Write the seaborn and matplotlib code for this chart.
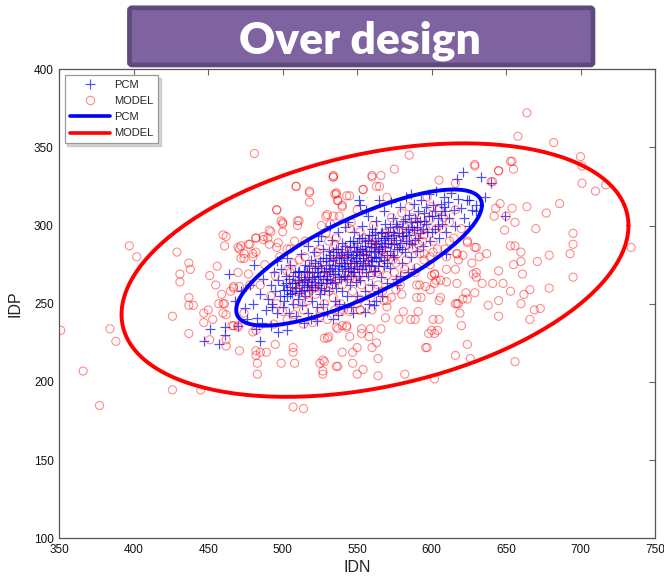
import numpy as np
import pandas as pd
import matplotlib
matplotlib.use("Agg")
import matplotlib.pyplot as plt
from matplotlib.lines import Line2D
from matplotlib.patches import FancyBboxPatch
import seaborn as sns

# ---------------- data ----------------
# PCM samples (IDN, IDP)
pcm_edge = [(468, 252), (472, 258), (475, 247), (478, 262), (480, 250), (483, 241), (485, 256),
            (487, 266), (489, 246), (490, 253), (476, 240), (486, 238), (464, 269), (481, 275),
            (457, 224), (461, 230), (451, 234), (485, 226), (482, 234), (447, 226), (470, 236),
            (492, 236), (497, 232), (503, 233), (461, 235), (493, 248)]
pcm_low = [(492, 262), (493, 250), (494, 270), (495, 258), (496, 244), (497, 265), (498, 255),
           (499, 272), (500, 248), (500, 262), (501, 252), (502, 268), (503, 259), (504, 244),
           (505, 275), (505, 256), (506, 263), (507, 250), (508, 270), (508, 258), (509, 242),
           (510, 265), (510, 253), (496, 277), (503, 279),
           (511, 271), (512, 258), (512, 282), (513, 249), (514, 265), (515, 275), (515, 255),
           (516, 262), (517, 287), (517, 244), (518, 270), (518, 259), (519, 278), (520, 252),
           (520, 266), (521, 283), (522, 261), (522, 273), (523, 248), (524, 268), (524, 290),
           (525, 256), (525, 277), (526, 263), (527, 285), (527, 250), (528, 271), (528, 259),
           (529, 279), (530, 266), (530, 245), (526, 293), (519, 240), (514, 238), (523, 239)]
pcm_mid = [(531, 284), (531, 258), (532, 272), (533, 263), (533, 291), (534, 278), (535, 252),
           (535, 269), (536, 285), (536, 260), (537, 296), (538, 274), (538, 250), (539, 281),
           (539, 266), (540, 289), (540, 258), (541, 276), (542, 268), (542, 299), (543, 283),
           (543, 255), (544, 273), (545, 290), (545, 262), (546, 280), (546, 248), (547, 270),
           (548, 286), (548, 296), (549, 264), (549, 277), (550, 283), (550, 255), (537, 243),
           (544, 302), (547, 244), (532, 300), (541, 248), (534, 240),
           (551, 272), (551, 292), (552, 265), (553, 285), (553, 300), (554, 276), (555, 258),
           (555, 290), (556, 281), (557, 268), (557, 306), (558, 294), (559, 275), (559, 286),
           (560, 262), (560, 298), (561, 280), (562, 271), (562, 290), (563, 303), (564, 284),
           (564, 258), (565, 277), (566, 295), (566, 267), (567, 287), (568, 309), (568, 274),
           (569, 292), (570, 281), (570, 263), (556, 310), (563, 252), (558, 250), (569, 301),
           (552, 313), (565, 316), (555, 245), (561, 249), (567, 255), (551, 316)]
pcm_high = [(571, 296), (572, 273), (573, 288), (574, 305), (575, 280), (575, 294), (576, 266),
            (577, 300), (578, 286), (579, 312), (580, 276), (580, 293), (581, 303), (582, 283),
            (583, 296), (584, 270), (585, 307), (585, 289), (586, 280), (587, 299), (588, 314),
            (589, 291), (590, 284), (590, 302), (577, 262), (583, 318), (573, 315), (588, 272),
            (579, 268), (586, 320),
            (591, 309), (592, 295), (593, 316), (594, 287), (595, 303), (596, 312), (597, 296),
            (598, 320), (599, 290), (600, 306), (601, 313), (602, 298), (603, 322), (604, 305),
            (605, 292), (606, 314), (607, 301), (608, 318), (609, 309), (610, 296),
            (611, 315), (612, 305), (613, 321), (615, 310), (616, 300), (618, 317), (620, 311),
            (622, 305), (624, 316), (627, 310), (630, 313), (625, 300),
            (621, 334), (633, 331), (640, 327), (636, 318), (625, 316), (630, 309), (610, 282),
            (649, 306), (617, 330)]
pcm_dense = [(501, 259), (502, 263), (503, 255), (504, 266), (505, 261), (506, 257), (507, 268),
             (508, 263), (509, 260), (510, 270), (511, 264), (511, 257), (512, 267), (513, 262),
             (514, 271), (514, 259), (515, 266), (516, 270), (516, 261), (517, 264), (518, 274),
             (518, 267), (519, 262), (520, 270), (520, 259), (521, 267), (522, 276), (522, 264),
             (523, 270), (524, 262), (524, 274), (525, 268), (526, 273), (526, 260), (527, 279),
             (527, 266), (528, 270), (529, 275), (529, 263), (530, 268), (531, 277), (531, 271),
             (532, 265), (532, 281), (533, 273), (534, 269), (534, 283), (535, 275), (535, 264),
             (536, 279), (537, 271), (537, 285), (538, 267), (538, 280), (539, 276), (540, 272),
             (540, 283), (541, 268), (541, 279), (542, 287), (542, 274), (543, 278), (543, 266),
             (544, 282), (544, 271), (545, 276), (545, 286), (546, 273), (546, 268), (547, 281),
             (547, 290), (548, 276), (548, 270), (549, 284), (549, 279), (550, 274), (550, 289),
             (551, 281), (551, 268), (552, 285), (552, 277), (553, 272), (553, 292), (554, 282),
             (554, 279), (555, 287), (555, 275), (556, 284), (556, 270), (557, 291), (557, 278),
             (558, 284), (558, 274), (559, 289), (559, 280), (560, 294), (560, 277), (561, 286),
             (561, 271), (562, 283), (562, 296), (563, 288), (563, 279), (564, 292), (564, 274),
             (565, 285), (566, 289), (566, 280), (567, 296), (567, 284), (568, 278), (568, 291),
             (569, 286), (570, 293), (570, 276), (571, 289), (572, 299), (572, 284), (573, 292),
             (574, 281), (574, 296), (575, 288), (576, 301), (576, 291), (577, 285), (578, 295),
             (579, 289), (580, 299), (580, 285), (581, 293), (582, 304), (583, 290), (584, 298),
             (585, 294), (586, 302), (587, 288), (588, 297), (589, 305), (590, 299), (591, 292),
             (592, 303), (594, 298), (595, 308), (596, 301), (598, 306), (600, 296), (602, 309),
             (604, 300), (606, 307), (608, 312)]

# MODEL samples (IDN, IDP)
model_left = [(351, 233), (366, 207), (377, 185), (384, 234), (388, 226), (397, 287), (402, 280),
              (426, 195), (426, 242), (429, 283), (431, 269), (431, 264), (437, 276), (438, 272),
              (437, 254), (437, 249), (440, 249), (437, 231), (445, 195), (447, 244), (447, 238),
              (451, 268), (451, 227), (453, 240), (456, 274), (457, 250), (459, 256), (460, 294),
              (461, 287), (462, 227), (462, 223), (466, 236), (467, 261), (470, 236), (471, 220),
              (470, 286), (472, 279), (474, 282), (477, 288), (477, 269), (480, 280), (481, 346),
              (482, 292), (482, 233), (482, 220), (482, 217), (483, 212), (483, 205), (485, 219),
              (487, 291), (489, 219), (491, 297), (491, 288), (496, 310), (496, 286), (499, 303),
              (500, 301), (499, 212), (495, 224), (507, 222), (507, 219), (508, 212), (507, 184),
              (514, 183), (509, 325), (510, 303), (518, 321), (518, 315), (525, 212), (527, 214),
              (527, 207), (528, 228), (534, 331), (535, 320), (534, 306), (536, 210), (536, 235)]
model_upper = [(534, 332), (518, 322), (509, 325), (496, 310), (500, 302), (511, 303), (492, 296),
               (487, 293), (482, 292), (462, 293), (478, 288), (471, 285), (474, 279), (480, 282),
               (497, 289), (503, 285), (508, 290), (536, 320), (543, 319), (537, 316), (540, 313),
               (530, 307), (532, 301), (554, 323), (560, 331), (563, 325), (467, 260), (471, 261),
               (461, 250), (462, 243), (460, 244), (467, 236), (470, 235), (480, 232), (494, 237),
               (503, 240), (514, 237), (525, 242), (531, 229), (543, 236), (552, 246), (538, 245),
               (553, 231), (559, 234),
               (585, 345), (575, 336), (534, 331), (560, 332), (566, 332), (565, 325), (554, 323),
               (536, 321), (537, 316), (540, 312), (529, 306), (545, 319), (570, 318), (605, 329),
               (616, 327), (629, 339), (645, 335), (653, 341), (640, 328)]
model_core = [(485, 262), (488, 275), (492, 255), (495, 268), (498, 280), (500, 245), (503, 271),
              (505, 285), (507, 262), (509, 250), (511, 278), (513, 266), (515, 290), (517, 252),
              (519, 272), (521, 260), (523, 283), (525, 245), (527, 268), (529, 295), (531, 258),
              (533, 276), (535, 288), (537, 265), (539, 250), (541, 282), (543, 270), (545, 298),
              (547, 258), (549, 285), (551, 275), (553, 262), (555, 292), (557, 280), (559, 268),
              (561, 300), (563, 286), (565, 272), (567, 258), (569, 295), (571, 281), (573, 305),
              (575, 270), (577, 290), (579, 262), (581, 300), (583, 278), (585, 312), (587, 285),
              (589, 270), (591, 296), (593, 305), (595, 282), (597, 318), (599, 275), (601, 290),
              (603, 265), (605, 310), (607, 298), (609, 285), (612, 302), (615, 292), (618, 278),
              (520, 238), (530, 240), (540, 236), (550, 250), (560, 246), (570, 252), (580, 256),
              (590, 262), (600, 268), (508, 243), (496, 250), (478, 262), (474, 244), (470, 270),
              (465, 258), (460, 250), (455, 262), (450, 246), (482, 283), (490, 292), (500, 296),
              (510, 300), (472, 287),
              (505, 270), (510, 258), (515, 280), (520, 262), (525, 285), (528, 250), (532, 268),
              (536, 292), (540, 262), (544, 278), (548, 266), (552, 296), (556, 272), (560, 288),
              (564, 262), (568, 280), (572, 296), (576, 276), (580, 308), (584, 288), (588, 300),
              (592, 282), (596, 298), (600, 312), (604, 285), (608, 305), (612, 290), (616, 310),
              (620, 298), (514, 246), (522, 256), (534, 282), (546, 302), (558, 260), (570, 268),
              (582, 272), (594, 290), (526, 300), (538, 306), (550, 310),
              (512, 262), (518, 268), (523, 276), (529, 272), (533, 262), (538, 278), (542, 285),
              (547, 274), (551, 268), (554, 283), (558, 277), (562, 292), (566, 284), (571, 288),
              (574, 278), (578, 297), (583, 294), (587, 305), (591, 288), (595, 294), (599, 304),
              (603, 298), (507, 276), (516, 256), (531, 290), (545, 266), (563, 270), (577, 282),
              (589, 293), (601, 283)]
model_right = [(664, 372), (658, 357), (682, 353), (700, 344), (701, 338), (701, 327), (710, 322),
               (717, 326), (734, 286), (695, 295), (695, 288), (693, 282), (695, 267), (686, 314),
               (677, 308), (679, 281), (679, 260), (670, 298), (671, 277), (673, 247), (669, 246),
               (666, 240), (666, 259), (664, 312), (660, 283), (660, 277), (661, 269), (660, 250),
               (662, 256), (654, 311), (654, 341), (655, 336), (656, 302), (656, 287), (653, 287),
               (655, 275), (653, 258), (656, 213), (649, 297), (650, 306), (646, 314), (645, 335),
               (641, 328), (643, 311), (642, 306), (645, 271), (648, 263), (645, 252), (645, 242),
               (641, 263), (638, 249), (637, 282), (632, 280), (630, 267), (630, 270), (634, 263),
               (629, 338), (628, 269), (629, 257), (623, 257), (624, 253), (621, 253), (619, 244),
               (618, 250), (616, 250), (617, 263), (616, 272), (617, 282), (621, 281), (627, 276),
               (624, 290), (629, 286), (620, 236), (624, 224), (626, 215), (616, 217), (610, 272),
               (610, 264), (605, 252), (605, 240), (602, 231), (600, 233), (604, 233), (597, 222),
               (602, 269), (602, 263), (599, 259), (596, 261), (590, 254), (591, 245), (589, 240),
               (586, 240), (581, 245), (578, 240), (570, 248), (569, 241), (563, 225), (564, 215),
               (566, 234), (560, 222), (558, 229), (553, 234), (550, 222), (547, 219), (547, 212),
               (545, 229), (543, 235), (540, 219), (537, 210), (530, 228), (528, 213), (527, 205),
               (537, 234), (550, 205), (554, 208), (564, 204), (582, 205), (596, 222), (602, 202),
               (617, 250), (552, 246), (545, 245), (535, 246), (606, 254), (593, 254), (601, 240),
               (598, 231),
               (527, 261), (534, 254), (541, 246), (552, 253), (559, 254), (568, 252), (577, 264),
               (582, 269), (590, 273), (595, 278), (599, 280), (602, 269), (610, 280), (617, 282),
               (624, 289), (630, 286), (606, 265), (592, 262), (576, 259), (573, 254)]

# Confidence ellipses: centre (IDN, IDP), half-extent (IDN, IDP), correlation
pcm_center = [551.3, 279.5]
pcm_extent = [82.5, 43.5]
pcm_rho = 0.77
model_center = [562.0, 271.5]
model_extent = [170.2, 81.0]
model_rho = 0.35

x_ticks = [350, 400, 450, 500, 550, 600, 650, 700, 750]
y_ticks = [100, 150, 200, 250, 300, 350, 400]


def ellipse_frame(center, extent, rho, n=240):
    t = np.linspace(0, 2 * np.pi, n)
    phase = np.arccos(rho)
    return pd.DataFrame({
        "IDN": center[0] + extent[0] * np.cos(t),
        "IDP": center[1] + extent[1] * np.cos(t - phase),
        "order": np.arange(n),
    })


pcm = pd.DataFrame(pcm_edge + pcm_low + pcm_mid + pcm_high + pcm_dense, columns=["IDN", "IDP"])
model = pd.DataFrame(model_left + model_upper + model_core + model_right, columns=["IDN", "IDP"])
pcm_ell = ellipse_frame(pcm_center, pcm_extent, pcm_rho)
model_ell = ellipse_frame(model_center, model_extent, model_rho)

# ---------------- figure ----------------
sns.set_theme(style="white")
plt.rcParams["font.family"] = ["Liberation Sans", "DejaVu Sans"]

fig = plt.figure(figsize=(6.64, 5.80), dpi=100)
ax = fig.add_axes([0.0893, 0.0716, 0.8971, 0.8094])

blue_pt = (0.0, 0.0, 1.0, 0.7)
red_pt = (1.0, 0.0, 0.0, 0.45)

sns.scatterplot(data=pcm, x="IDN", y="IDP", marker="+", color=blue_pt, s=44,
                linewidth=0.85, ax=ax, zorder=2)
sns.scatterplot(data=model, x="IDN", y="IDP", marker="o", facecolor="none",
                edgecolor=red_pt, color=red_pt, s=34, linewidth=0.8, ax=ax, zorder=3)
sns.lineplot(data=model_ell, x="IDN", y="IDP", sort=False, estimator=None,
             color="#ff0000", linewidth=2.8, ax=ax, zorder=4)
sns.lineplot(data=pcm_ell, x="IDN", y="IDP", sort=False, estimator=None,
             color="#0000ff", linewidth=2.8, ax=ax, zorder=5)

ax.set_xlim(350, 750)
ax.set_ylim(100, 400)
ax.set_xticks(x_ticks)
ax.set_yticks(y_ticks)
ax.tick_params(direction="in", length=4, width=0.8, color="#666666",
               top=True, right=True, labelsize=8.5, labelcolor="#111111", pad=4)
for sp in ax.spines.values():
    sp.set_color("#555555")
    sp.set_linewidth(0.9)
ax.set_xlabel("IDN", fontsize=11.5, color="#222222", labelpad=3)
ax.set_ylabel("IDP", fontsize=11.5, color="#222222", labelpad=8)

handles = [
    Line2D([], [], linestyle="none", marker="+", markersize=7, markeredgewidth=0.8,
           color=blue_pt),
    Line2D([], [], linestyle="none", marker="o", markersize=6, markeredgewidth=0.8,
           markerfacecolor="none", markeredgecolor=red_pt),
    Line2D([], [], color="#0000ff", linewidth=2.6),
    Line2D([], [], color="#ff0000", linewidth=2.6),
]
leg = ax.legend(handles, ["PCM", "MODEL", "PCM", "MODEL"], loc="upper left",
                bbox_to_anchor=(0.009, 0.987), borderaxespad=0, fontsize=8,
                handlelength=3.6, handletextpad=0.4, labelspacing=0.55,
                borderpad=0.45, fancybox=False, frameon=True,
                shadow={"color": "0.6", "alpha": 0.4})
leg.get_frame().set_edgecolor("#9a9a9a")
leg.get_frame().set_linewidth(0.9)

# title banner
fig.patches.append(FancyBboxPatch((0.195, 0.8880), 0.698, 0.0985,
                                  boxstyle="round,pad=0,rounding_size=0.004",
                                  transform=fig.transFigure, facecolor="#7f63a0",
                                  edgecolor="#5c4a7b", linewidth=3.4, zorder=0))
fig.text(0.5425, 0.9085, "Over design", ha="center", va="baseline", color="white",
         fontsize=32, fontweight="heavy", family=["Lato", "DejaVu Sans"])

fig.savefig("out.png", dpi=100)
